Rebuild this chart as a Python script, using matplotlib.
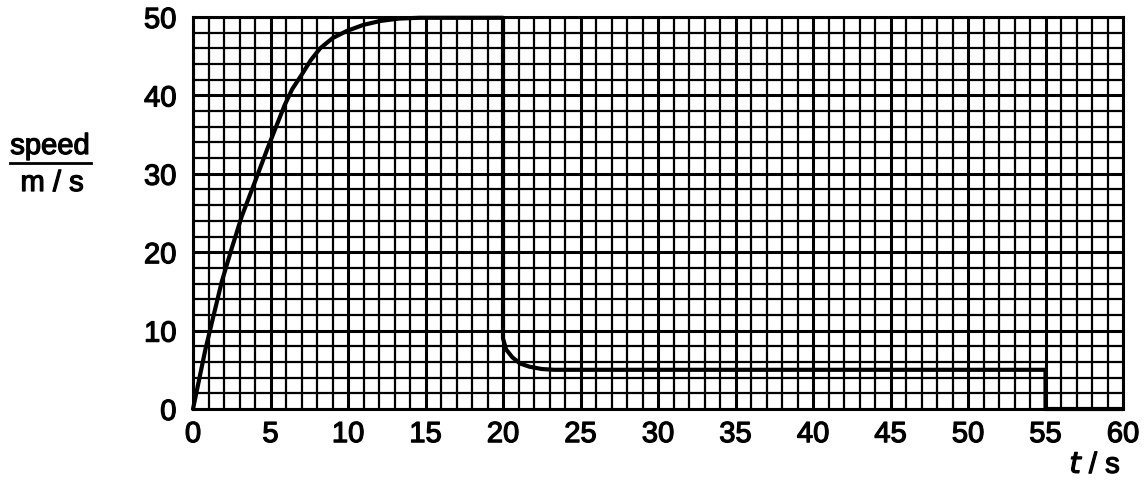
import matplotlib
matplotlib.use("Agg")
import matplotlib.pyplot as plt
import matplotlib.patheffects as pe

# Data
t_values = [0, 0.8, 1.85, 2.5, 3.15, 4.0, 4.8, 5.9, 6.4, 7.0, 7.6, 8.2, 9.0, 9.9,
            11.0, 12.1, 13.3, 14.6, 20.0, 20.0, 20.2, 20.6, 21.1, 21.7, 22.5, 23.3,
            55.0, 55.0, 60.0]
speed_values = [0, 7.6, 16.2, 20.5, 24.6, 29.0, 33.2, 38.7, 40.8, 42.6, 44.5, 46.0, 47.3, 48.2,
                49.0, 49.5, 49.8, 49.9, 49.9, 9.0, 7.6, 6.6, 5.8, 5.4, 5.1, 5.0,
                5.0, 0.0, 0.0]
x_ticks = [0, 5, 10, 15, 20, 25, 30, 35, 40, 45, 50, 55, 60]
y_ticks = [0, 10, 20, 30, 40, 50]

plt.rcParams['font.family'] = ['Liberation Sans', 'DejaVu Sans']
W, H = 1146, 484
fig = plt.figure(figsize=(W / 100, H / 100), dpi=100)
ax = fig.add_axes([193 / W, 1 - 409 / H, 930 / W, 392 / H])

ax.set_xlim(0, 60)
ax.set_ylim(0, 50)
ax.set_xticks(x_ticks)
ax.set_yticks(y_ticks)
ax.set_xticks(range(0, 61, 1), minor=True)
ax.set_yticks(range(0, 51, 2), minor=True)
ax.grid(which='minor', color='black', linewidth=1.6)
ax.grid(which='major', color='black', linewidth=2.2)
ax.set_axisbelow(True)
for s in ax.spines.values():
    s.set_linewidth(2.2)
    s.set_color('black')

stroke = [pe.withStroke(linewidth=0.9, foreground='black')]
ax.tick_params(which='both', length=0)
ax.tick_params(axis='x', pad=8, labelsize=21)
ax.tick_params(axis='y', pad=12, labelsize=21)
for lab in ax.get_xticklabels() + ax.get_yticklabels():
    lab.set_path_effects(stroke)

ax.plot(t_values, speed_values, color='black', linewidth=3.0,
        solid_joinstyle='round', solid_capstyle='round', clip_on=False, zorder=5)

# y-axis label as a fraction: speed / m/s
fig.text(50 / W, 1 - 146 / H, 'speed', ha='center', va='center', fontsize=21,
         path_effects=stroke)
fig.add_artist(plt.Line2D([10 / W, 91 / W], [1 - 163 / H, 1 - 163 / H],
                          color='black', linewidth=2.0, transform=fig.transFigure))
fig.text(52 / W, 1 - 183 / H, 'm / s', ha='center', va='center', fontsize=21,
         path_effects=stroke)

# x-axis label
fig.text(1095 / W, 1 - 465 / H, r'$t$ / s', ha='center', va='center', fontsize=21,
         path_effects=stroke)

fig.savefig('out.png', dpi=100, facecolor='white')
